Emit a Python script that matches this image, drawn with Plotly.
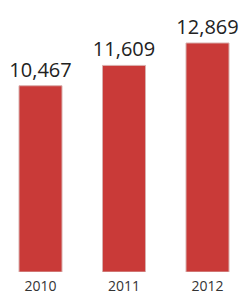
import plotly.graph_objects as go

years = ["2010", "2011", "2012"]
values = [10467, 11609, 12869]
labels = ["10,467", "11,609", "12,869"]

fig = go.Figure(go.Bar(
    x=years, y=values,
    text=labels, textposition="outside", constraintext="none",
    textfont=dict(family="Open Sans", size=20, color="#222222"),
    marker=dict(color="#c93a38", line=dict(color="#d9b0ae", width=1)),
    width=0.515, cliponaxis=False,
))
fig.update_layout(
    width=246, height=294,
    margin=dict(l=0, r=0, t=0, b=22, pad=0, autoexpand=False),
    plot_bgcolor="white", paper_bgcolor="white",
    showlegend=False,
    xaxis=dict(range=[-0.485, 2.461], showgrid=False, showline=False, zeroline=False,
               automargin=False, ticklabelstandoff=4,
               tickfont=dict(family="Open Sans", size=14, color="#333333"), ticks=""),
    yaxis=dict(range=[0, 15285], visible=False),
)
fig.write_html("out.html", config={"displayModeBar": False},
               post_script="document.body.style.margin='0';")
